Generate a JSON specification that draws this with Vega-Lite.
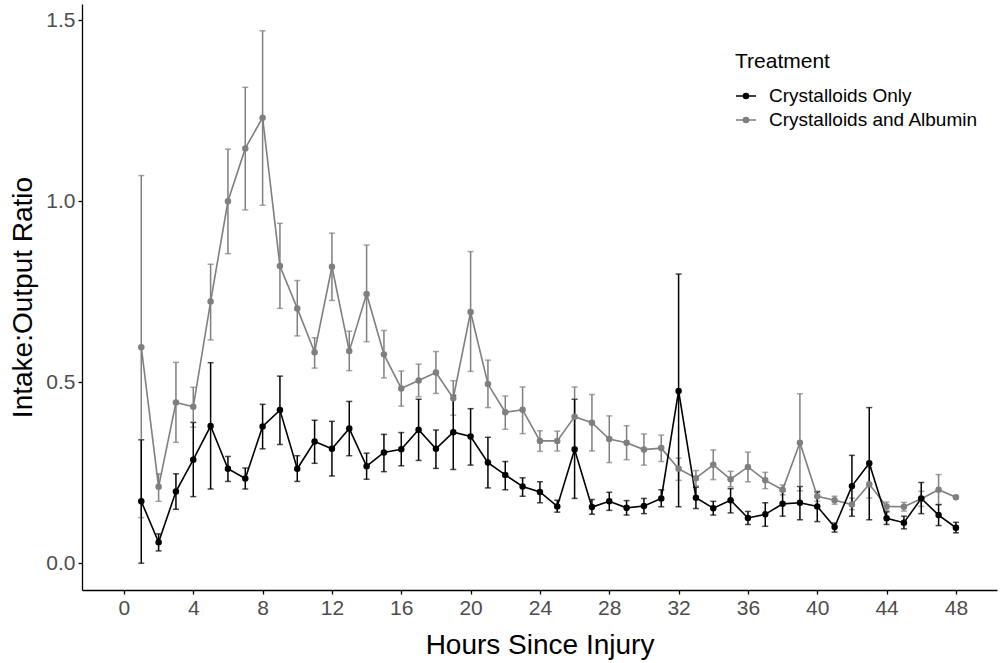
{
  "$schema": "https://vega.github.io/schema/vega-lite/v6.json",
  "width": 915,
  "height": 586,
  "autosize": "none",
  "padding": {"left": 82, "top": 4, "right": 3, "bottom": 73},
  "background": "white",
  "config": {
    "font": "Liberation Sans",
    "view": {"stroke": null},
    "axis": {
      "grid": false,
      "domainColor": "black",
      "domainWidth": 1.3,
      "tickColor": "black",
      "tickWidth": 1.3,
      "tickSize": 4,
      "labelColor": "#4D4D4D",
      "labelFontSize": 21,
      "labelPadding": 3,
      "titleColor": "black",
      "titleFontSize": 28,
      "titleFontWeight": "normal"
    },
    "legend": {
      "orient": "none",
      "legendX": 653,
      "legendY": 47,
      "titleFontSize": 21,
      "titleFontWeight": "normal",
      "titleColor": "black",
      "titlePadding": 13,
      "labelFontSize": 19,
      "labelColor": "black",
      "labelLimit": 400,
      "labelOffset": 12,
      "rowPadding": 3,
      "symbolSize": 400,
      "symbolOpacity": 1,
      "symbolStrokeWidth": 1.6,
      "symbolType": "M-1,0H1 M-0.25,0A0.25,0.25 0 1,0 0.25,0A0.25,0.25 0 1,0 -0.25,0Z M-0.15,0A0.15,0.15 0 1,0 0.15,0A0.15,0.15 0 1,0 -0.15,0Z M-0.05,0A0.05,0.05 0 1,0 0.05,0A0.05,0.05 0 1,0 -0.05,0Z"
    }
  },
  "data": {
    "values": [
      {"hour": 1, "treatment": "Crystalloids and Albumin", "ratio": 0.597, "lo": 0.126, "hi": 1.071},
      {"hour": 2, "treatment": "Crystalloids and Albumin", "ratio": 0.211, "lo": 0.171, "hi": 0.247},
      {"hour": 3, "treatment": "Crystalloids and Albumin", "ratio": 0.444, "lo": 0.334, "hi": 0.555},
      {"hour": 4, "treatment": "Crystalloids and Albumin", "ratio": 0.432, "lo": 0.376, "hi": 0.486},
      {"hour": 5, "treatment": "Crystalloids and Albumin", "ratio": 0.723, "lo": 0.617, "hi": 0.826},
      {"hour": 6, "treatment": "Crystalloids and Albumin", "ratio": 1.0, "lo": 0.855, "hi": 1.144},
      {"hour": 7, "treatment": "Crystalloids and Albumin", "ratio": 1.146, "lo": 0.976, "hi": 1.315},
      {"hour": 8, "treatment": "Crystalloids and Albumin", "ratio": 1.231, "lo": 0.989, "hi": 1.471},
      {"hour": 9, "treatment": "Crystalloids and Albumin", "ratio": 0.821, "lo": 0.704, "hi": 0.939},
      {"hour": 10, "treatment": "Crystalloids and Albumin", "ratio": 0.704, "lo": 0.628, "hi": 0.781},
      {"hour": 11, "treatment": "Crystalloids and Albumin", "ratio": 0.583, "lo": 0.539, "hi": 0.623},
      {"hour": 12, "treatment": "Crystalloids and Albumin", "ratio": 0.819, "lo": 0.726, "hi": 0.912},
      {"hour": 13, "treatment": "Crystalloids and Albumin", "ratio": 0.586, "lo": 0.532, "hi": 0.641},
      {"hour": 14, "treatment": "Crystalloids and Albumin", "ratio": 0.744, "lo": 0.612, "hi": 0.879},
      {"hour": 15, "treatment": "Crystalloids and Albumin", "ratio": 0.577, "lo": 0.512, "hi": 0.643},
      {"hour": 16, "treatment": "Crystalloids and Albumin", "ratio": 0.483, "lo": 0.434, "hi": 0.531},
      {"hour": 17, "treatment": "Crystalloids and Albumin", "ratio": 0.505, "lo": 0.46, "hi": 0.55},
      {"hour": 18, "treatment": "Crystalloids and Albumin", "ratio": 0.527, "lo": 0.469, "hi": 0.585},
      {"hour": 19, "treatment": "Crystalloids and Albumin", "ratio": 0.456, "lo": 0.409, "hi": 0.504},
      {"hour": 20, "treatment": "Crystalloids and Albumin", "ratio": 0.694, "lo": 0.53, "hi": 0.861},
      {"hour": 21, "treatment": "Crystalloids and Albumin", "ratio": 0.495, "lo": 0.43, "hi": 0.561},
      {"hour": 22, "treatment": "Crystalloids and Albumin", "ratio": 0.417, "lo": 0.37, "hi": 0.462},
      {"hour": 23, "treatment": "Crystalloids and Albumin", "ratio": 0.424, "lo": 0.358, "hi": 0.487},
      {"hour": 24, "treatment": "Crystalloids and Albumin", "ratio": 0.338, "lo": 0.309, "hi": 0.366},
      {"hour": 25, "treatment": "Crystalloids and Albumin", "ratio": 0.338, "lo": 0.31, "hi": 0.365},
      {"hour": 26, "treatment": "Crystalloids and Albumin", "ratio": 0.405, "lo": 0.32, "hi": 0.487},
      {"hour": 27, "treatment": "Crystalloids and Albumin", "ratio": 0.388, "lo": 0.31, "hi": 0.466},
      {"hour": 28, "treatment": "Crystalloids and Albumin", "ratio": 0.343, "lo": 0.278, "hi": 0.407},
      {"hour": 29, "treatment": "Crystalloids and Albumin", "ratio": 0.333, "lo": 0.286, "hi": 0.38},
      {"hour": 30, "treatment": "Crystalloids and Albumin", "ratio": 0.314, "lo": 0.271, "hi": 0.357},
      {"hour": 31, "treatment": "Crystalloids and Albumin", "ratio": 0.318, "lo": 0.281, "hi": 0.354},
      {"hour": 32, "treatment": "Crystalloids and Albumin", "ratio": 0.261, "lo": 0.229, "hi": 0.29},
      {"hour": 33, "treatment": "Crystalloids and Albumin", "ratio": 0.235, "lo": 0.214, "hi": 0.256},
      {"hour": 34, "treatment": "Crystalloids and Albumin", "ratio": 0.272, "lo": 0.231, "hi": 0.313},
      {"hour": 35, "treatment": "Crystalloids and Albumin", "ratio": 0.232, "lo": 0.211, "hi": 0.254},
      {"hour": 36, "treatment": "Crystalloids and Albumin", "ratio": 0.266, "lo": 0.225, "hi": 0.307},
      {"hour": 37, "treatment": "Crystalloids and Albumin", "ratio": 0.229, "lo": 0.206, "hi": 0.251},
      {"hour": 38, "treatment": "Crystalloids and Albumin", "ratio": 0.203, "lo": 0.189, "hi": 0.216},
      {"hour": 39, "treatment": "Crystalloids and Albumin", "ratio": 0.333, "lo": 0.2, "hi": 0.468},
      {"hour": 40, "treatment": "Crystalloids and Albumin", "ratio": 0.185, "lo": 0.171, "hi": 0.199},
      {"hour": 41, "treatment": "Crystalloids and Albumin", "ratio": 0.174, "lo": 0.163, "hi": 0.185},
      {"hour": 42, "treatment": "Crystalloids and Albumin", "ratio": 0.162, "lo": 0.148, "hi": 0.18},
      {"hour": 43, "treatment": "Crystalloids and Albumin", "ratio": 0.218, "lo": 0.18, "hi": 0.265},
      {"hour": 44, "treatment": "Crystalloids and Albumin", "ratio": 0.157, "lo": 0.146, "hi": 0.169},
      {"hour": 45, "treatment": "Crystalloids and Albumin", "ratio": 0.156, "lo": 0.144, "hi": 0.168},
      {"hour": 46, "treatment": "Crystalloids and Albumin", "ratio": 0.178, "lo": 0.157, "hi": 0.199},
      {"hour": 47, "treatment": "Crystalloids and Albumin", "ratio": 0.203, "lo": 0.162, "hi": 0.245},
      {"hour": 48, "treatment": "Crystalloids and Albumin", "ratio": 0.182, "lo": 0.179, "hi": 0.185},
      {"hour": 1, "treatment": "Crystalloids Only", "ratio": 0.171, "lo": 0.0, "hi": 0.341},
      {"hour": 2, "treatment": "Crystalloids Only", "ratio": 0.058, "lo": 0.034, "hi": 0.081},
      {"hour": 3, "treatment": "Crystalloids Only", "ratio": 0.198, "lo": 0.149, "hi": 0.247},
      {"hour": 4, "treatment": "Crystalloids Only", "ratio": 0.286, "lo": 0.184, "hi": 0.389},
      {"hour": 5, "treatment": "Crystalloids Only", "ratio": 0.379, "lo": 0.205, "hi": 0.554},
      {"hour": 6, "treatment": "Crystalloids Only", "ratio": 0.261, "lo": 0.226, "hi": 0.295},
      {"hour": 7, "treatment": "Crystalloids Only", "ratio": 0.234, "lo": 0.205, "hi": 0.263},
      {"hour": 8, "treatment": "Crystalloids Only", "ratio": 0.378, "lo": 0.316, "hi": 0.439},
      {"hour": 9, "treatment": "Crystalloids Only", "ratio": 0.423, "lo": 0.328, "hi": 0.517},
      {"hour": 10, "treatment": "Crystalloids Only", "ratio": 0.261, "lo": 0.226, "hi": 0.297},
      {"hour": 11, "treatment": "Crystalloids Only", "ratio": 0.336, "lo": 0.276, "hi": 0.395},
      {"hour": 12, "treatment": "Crystalloids Only", "ratio": 0.316, "lo": 0.241, "hi": 0.392},
      {"hour": 13, "treatment": "Crystalloids Only", "ratio": 0.372, "lo": 0.297, "hi": 0.447},
      {"hour": 14, "treatment": "Crystalloids Only", "ratio": 0.268, "lo": 0.232, "hi": 0.304},
      {"hour": 15, "treatment": "Crystalloids Only", "ratio": 0.306, "lo": 0.253, "hi": 0.356},
      {"hour": 16, "treatment": "Crystalloids Only", "ratio": 0.315, "lo": 0.269, "hi": 0.361},
      {"hour": 17, "treatment": "Crystalloids Only", "ratio": 0.369, "lo": 0.284, "hi": 0.453},
      {"hour": 18, "treatment": "Crystalloids Only", "ratio": 0.316, "lo": 0.262, "hi": 0.368},
      {"hour": 19, "treatment": "Crystalloids Only", "ratio": 0.362, "lo": 0.259, "hi": 0.464},
      {"hour": 20, "treatment": "Crystalloids Only", "ratio": 0.35, "lo": 0.271, "hi": 0.427},
      {"hour": 21, "treatment": "Crystalloids Only", "ratio": 0.278, "lo": 0.208, "hi": 0.348},
      {"hour": 22, "treatment": "Crystalloids Only", "ratio": 0.244, "lo": 0.203, "hi": 0.281},
      {"hour": 23, "treatment": "Crystalloids Only", "ratio": 0.212, "lo": 0.185, "hi": 0.236},
      {"hour": 24, "treatment": "Crystalloids Only", "ratio": 0.197, "lo": 0.167, "hi": 0.225},
      {"hour": 25, "treatment": "Crystalloids Only", "ratio": 0.157, "lo": 0.141, "hi": 0.174},
      {"hour": 26, "treatment": "Crystalloids Only", "ratio": 0.314, "lo": 0.179, "hi": 0.453},
      {"hour": 27, "treatment": "Crystalloids Only", "ratio": 0.155, "lo": 0.135, "hi": 0.176},
      {"hour": 28, "treatment": "Crystalloids Only", "ratio": 0.171, "lo": 0.146, "hi": 0.196},
      {"hour": 29, "treatment": "Crystalloids Only", "ratio": 0.153, "lo": 0.133, "hi": 0.173},
      {"hour": 30, "treatment": "Crystalloids Only", "ratio": 0.158, "lo": 0.137, "hi": 0.179},
      {"hour": 31, "treatment": "Crystalloids Only", "ratio": 0.179, "lo": 0.156, "hi": 0.203},
      {"hour": 32, "treatment": "Crystalloids Only", "ratio": 0.476, "lo": 0.156, "hi": 0.799},
      {"hour": 33, "treatment": "Crystalloids Only", "ratio": 0.181, "lo": 0.151, "hi": 0.21},
      {"hour": 34, "treatment": "Crystalloids Only", "ratio": 0.152, "lo": 0.133, "hi": 0.171},
      {"hour": 35, "treatment": "Crystalloids Only", "ratio": 0.174, "lo": 0.139, "hi": 0.206},
      {"hour": 36, "treatment": "Crystalloids Only", "ratio": 0.125, "lo": 0.107, "hi": 0.143},
      {"hour": 37, "treatment": "Crystalloids Only", "ratio": 0.135, "lo": 0.102, "hi": 0.167},
      {"hour": 38, "treatment": "Crystalloids Only", "ratio": 0.164, "lo": 0.13, "hi": 0.199},
      {"hour": 39, "treatment": "Crystalloids Only", "ratio": 0.167, "lo": 0.12, "hi": 0.212},
      {"hour": 40, "treatment": "Crystalloids Only", "ratio": 0.157, "lo": 0.115, "hi": 0.197},
      {"hour": 41, "treatment": "Crystalloids Only", "ratio": 0.1, "lo": 0.086, "hi": 0.111},
      {"hour": 42, "treatment": "Crystalloids Only", "ratio": 0.213, "lo": 0.13, "hi": 0.298},
      {"hour": 43, "treatment": "Crystalloids Only", "ratio": 0.276, "lo": 0.12, "hi": 0.43},
      {"hour": 44, "treatment": "Crystalloids Only", "ratio": 0.124, "lo": 0.107, "hi": 0.142},
      {"hour": 45, "treatment": "Crystalloids Only", "ratio": 0.112, "lo": 0.095, "hi": 0.13},
      {"hour": 46, "treatment": "Crystalloids Only", "ratio": 0.179, "lo": 0.137, "hi": 0.223},
      {"hour": 47, "treatment": "Crystalloids Only", "ratio": 0.133, "lo": 0.104, "hi": 0.162},
      {"hour": 48, "treatment": "Crystalloids Only", "ratio": 0.098, "lo": 0.084, "hi": 0.113}
    ]
  },
  "encoding": {
    "x": {
      "field": "hour",
      "type": "quantitative",
      "title": "Hours Since Injury",
      "scale": {"domain": [-2.42, 50.37], "nice": false, "zero": false},
      "axis": {"values": [0, 4, 8, 12, 16, 20, 24, 28, 32, 36, 40, 44, 48], "titlePadding": 13}
    },
    "color": {
      "field": "treatment",
      "type": "nominal",
      "title": "Treatment",
      "scale": {"domain": ["Crystalloids Only", "Crystalloids and Albumin"], "range": ["#000000", "#7F7F7F"]}
    }
  },
  "layer": [
    {
      "mark": {"type": "errorbar", "ticks": {"size": 6}, "thickness": 1.5},
      "encoding": {
        "y": {"field": "lo", "type": "quantitative", "title": "Intake:Output Ratio",
          "scale": {"domain": [-0.074, 1.545], "nice": false},
          "axis": {"values": [0, 0.5, 1, 1.5], "format": ".1f", "titlePadding": 8}},
        "y2": {"field": "hi"}
      }
    },
    {
      "mark": {"type": "line", "strokeWidth": 1.6},
      "encoding": {
        "y": {"field": "ratio", "type": "quantitative"}
      }
    },
    {
      "mark": {"type": "point", "filled": true, "opacity": 1, "size": 42},
      "encoding": {
        "y": {"field": "ratio", "type": "quantitative"}
      }
    }
  ]
}
